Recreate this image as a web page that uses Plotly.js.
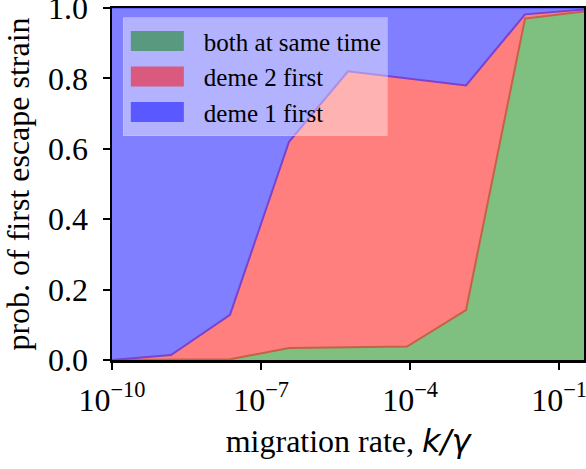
<!DOCTYPE html>
<html>
<head>
<meta charset="utf-8">
<script src="https://cdn.plot.ly/plotly-3.0.1.min.js"></script>
<style>html,body{margin:0;padding:0;background:#fff;}#chart{width:586px;height:469px;}</style>
</head>
<body>
<div id="chart"></div>
<script>
// migration rate k/gamma (log-spaced sample points)
const migrationRate = [1e-10, 1.540e-9, 2.371e-8, 3.652e-7, 5.623e-6, 8.660e-5, 1.334e-3, 2.054e-2, 3.162e-1];
// probabilities of which deme produces the first escape strain
const bothSameTime = [0, 0, 0.002, 0.034, 0.036, 0.038, 0.142, 0.970, 0.990];
const deme2First   = [0, 0.014, 0.126, 0.586, 0.784, 0.762, 0.638, 0.012, 0.006];
const deme1First   = [1, 0.986, 0.872, 0.380, 0.180, 0.200, 0.220, 0.018, 0.004];
const seriesNames = ['both at same time', 'deme 2 first', 'deme 1 first'];
const xTickVals = [1e-10, 1e-7, 1e-4, 1e-1];
const xTickText = ['10<sup>\u221210</sup>', '10<sup>\u22127</sup>', '10<sup>\u22124</sup>', '10<sup>\u22121</sup>'];
const yTickVals = [0, 0.2, 0.4, 0.6, 0.8, 1.0];
const yTickText = ['0.0', '0.2', '0.4', '0.6', '0.8', '1.0'];

const serif = 'Liberation Serif';

const traces = [
  {x: migrationRate, y: bothSameTime, name: seriesNames[0], type: 'scatter', mode: 'lines',
   stackgroup: 'one', fillcolor: 'rgba(0,128,0,0.5)', line: {color: 'rgb(196,98,72)', width: 2}},
  {x: migrationRate, y: deme2First, name: seriesNames[1], type: 'scatter', mode: 'lines',
   stackgroup: 'one', fillcolor: 'rgba(255,0,0,0.5)', line: {color: 'rgb(122,66,206)', width: 2}},
  {x: migrationRate, y: deme1First, name: seriesNames[2], type: 'scatter', mode: 'lines',
   stackgroup: 'one', fillcolor: 'rgba(0,0,255,0.5)', line: {color: 'rgba(0,0,255,0.5)', width: 1}}
];

const layout = {
  width: 586, height: 469,
  margin: {l: 112, r: 2, t: 8, b: 109},
  paper_bgcolor: '#fff', plot_bgcolor: '#fff',
  font: {family: serif, color: '#000', size: 32},
  showlegend: true,
  legend: {x: 0.023, y: 0.974, xanchor: 'left', yanchor: 'top', itemwidth: 70,
    bgcolor: 'rgba(255,255,255,0.4)', bordercolor: 'rgba(200,200,235,0.6)', borderwidth: 1,
    font: {family: serif, size: 25, color: '#000'}, traceorder: 'normal'},
  xaxis: {type: 'log', range: [-10, -0.5], tickvals: xTickVals, ticktext: xTickText,
    ticks: 'outside', ticklen: 7, tickwidth: 2, tickcolor: '#000', ticklabeloverflow: 'allow',
    ticklabelstandoff: 3,
    showline: true, linecolor: '#000', linewidth: 2.5, mirror: true,
    showgrid: false, zeroline: false,
    tickfont: {family: serif, size: 32, color: '#000'},
    title: {text: 'migration rate, <i><span style="font-family:DejaVu Sans;">k/\u03b3</span></i>', font: {family: serif, size: 32, color: '#000'}, standoff: 13}},
  yaxis: {range: [0, 1], tickvals: yTickVals, ticktext: yTickText,
    ticks: 'outside', ticklen: 7, tickwidth: 2, tickcolor: '#000', ticklabeloverflow: 'allow',
    ticklabelstandoff: 8,
    showline: true, linecolor: '#000', linewidth: 2.5, mirror: true,
    showgrid: false, zeroline: false,
    tickfont: {family: serif, size: 32, color: '#000'},
    title: {text: 'prob. of first escape strain', font: {family: serif, size: 32, color: '#000'}, standoff: 10}}
};

Plotly.newPlot('chart', traces, layout, {displayModeBar: false, staticPlot: true}).then(function () {
  // matplotlib-style rectangular legend patches
  document.querySelectorAll('.legend .legendfill path').forEach(function (p) {
    p.setAttribute('d', 'M7,-10h53v20h-53z');
  });
  document.querySelectorAll('.legend .legendlines path').forEach(function (p) {
    p.style.display = 'none';
  });
});
</script>
</body>
</html>
